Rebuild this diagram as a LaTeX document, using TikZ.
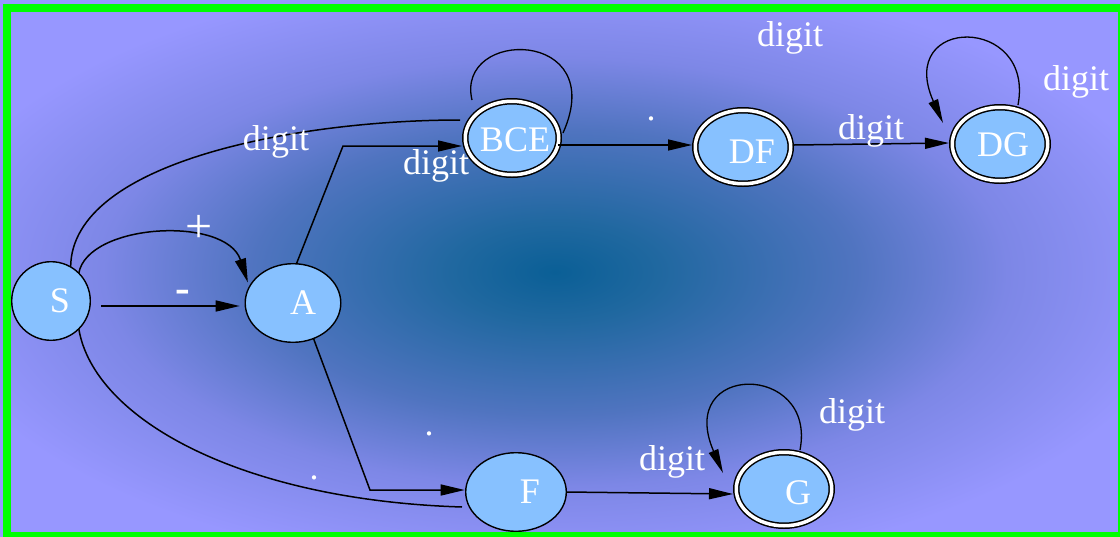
\documentclass[tikz,border=0pt]{standalone}
\usepackage{fontspec}
\setmainfont{Liberation Serif}
\usetikzlibrary{shapes.geometric,arrows.meta,calc}

\definecolor{nodeblue}{RGB}{135,193,255}
\definecolor{bgout}{RGB}{151,151,255}
\definecolor{bgmid}{RGB}{125,135,230}
\definecolor{bgin}{RGB}{80,116,192}
\definecolor{bgcore}{RGB}{32,104,160}
\definecolor{bgcenter}{RGB}{10,95,150}
\definecolor{framegreen}{RGB}{0,255,0}

% soft glow behind the automaton
\pgfdeclareradialshading{bgglow}{\pgfpoint{0bp}{0bp}}{%
  color(0bp)=(bgcenter); color(4.5bp)=(bgcore); color(13bp)=(bgin);
  color(19.5bp)=(bgmid); color(27.5bp)=(bgout); color(50bp)=(bgout)}

\tikzset{
  fsmstate/.style={ellipse, draw=black, line width=1.4pt, fill=nodeblue,
    inner sep=0pt, outer sep=0pt},
  fsmaccept/.style={fsmstate, line width=1.5pt, double=white, double distance=3.5pt},
  statetxt/.style={text=white, inner sep=0pt, font=\fontsize{36}{40}\selectfont},
  lbl/.style={text=white, inner sep=0pt, font=\fontsize{36}{40}\selectfont},
  trans/.style={draw=black, line width=1.5pt, -{Triangle[length=24pt,width=11pt]}},
  plainline/.style={draw=black, line width=1.5pt},
  loopline/.style={draw=black, line width=1.3pt},
}

\begin{document}
\begin{tikzpicture}[x=1pt,y=-1pt]
\useasboundingbox (0,0) rectangle (1120,536);
\clip (0,0) rectangle (1120,536);
\fill[white] (0,0) rectangle (1120,536);
\shade[shading=bgglow] (-25,-3) rectangle (1135,547);

% states
\node[fsmstate, minimum width=78.6pt, minimum height=78.6pt] (S) at (51,301) {};
\node[fsmstate, minimum width=95.6pt, minimum height=78.6pt] (A) at (293,303) {};
\node[fsmstate, minimum width=100.6pt, minimum height=78.6pt] (F) at (516,492) {};
\node[fsmaccept, minimum width=93.5pt, minimum height=73.5pt] (BCE) at (512,138) {};
\node[fsmaccept, minimum width=95.5pt, minimum height=73.5pt] (DF) at (743,147) {};
\node[fsmaccept, minimum width=95.5pt, minimum height=73.5pt] (DG) at (1000,144) {};
\node[fsmaccept, minimum width=95.5pt, minimum height=73.5pt] (G) at (784,489) {};

\node[statetxt] (Stxt) at ($(S.center)+(9,0)$) {S};
\node[statetxt] (Atxt) at ($(A.center)+(10,0)$) {A};
\node[statetxt] (Ftxt) at ($(F.center)+(14,0)$) {F};
\node[statetxt] (BCEtxt) at ($(BCE.center)+(3,2)$) {BCE};
\node[statetxt] (DFtxt) at ($(DF.center)+(9,5)$) {DF};
\node[statetxt] (DGtxt) at ($(DG.center)+(3,1)$) {DG};
\node[statetxt] (Gtxt) at ($(G.center)+(14,4)$) {G};

% transitions
\draw[trans] ($(S.east)+(11,5)$) -- ($(A.west)+(-5.5,3)$);
\draw[trans] (S.45) .. controls +(9,-50) and +(-22,-67) .. ($(A.150)+(-6,2)$);
\draw[plainline] (S.60) .. controls +(1,-106) and +(-160,0) .. ($(BCE.center)+(-52,-18)$);
\draw[trans] (A.85) -- (343,146) -- ($(BCE.center)+(-50,8)$);
\draw[trans] (A.-60) -- (370,490) -- ($(F.west)+(-1,-2)$);
\draw[plainline] (S.-45) .. controls +(15,90) and +(-222,-7) .. ($(F.center)+(-54,15)$);
\draw[trans] ($(BCE.center)+(46,7)$) -- ($(DF.center)+(-51,-2)$);
\draw[trans] ($(DF.center)+(51,-2)$) -- ($(DG.center)+(-51,-1)$);
\draw[trans] (F.east) -- ($(G.center)+(-51,5)$);

% self loops
\draw[loopline] ($(BCE.center)+(-40,-38)$) .. controls +(-17,-72) and +(47,-105) .. ($(BCE.center)+(51,-5)$);
\draw[loopline, -{Triangle[length=24pt,width=10pt]}] ($(DG.center)+(18,-39)$) .. controls +(17,-90) and +(-48,-108) .. ($(DG.center)+(-57,-21)$);
\draw[loopline, -{Triangle[length=24pt,width=10pt]}] ($(G.center)+(16,-39)$) .. controls +(17,-88) and +(-48,-111) .. ($(G.center)+(-61,-16)$);

% labels
\node[lbl, anchor=base] (l1) at (276,150) {digit};
\node[lbl, anchor=base] (l2) at (436,174) {digit};
\node[lbl, anchor=base] (l3) at (790,46) {digit};
\node[lbl, anchor=base] (l4) at (871,139) {digit};
\node[lbl, anchor=base] (l5) at (1076,90) {digit};
\node[lbl, anchor=base] (l6) at (672,470) {digit};
\node[lbl, anchor=base] (l7) at (852,423) {digit};
\node[lbl, font=\fontsize{48}{52}\selectfont] (plus) at (199,229) {+};
\node[lbl, font=\fontsize{44}{48}\selectfont\bfseries] (minus) at (183,296) {-};
\node[lbl, anchor=base] (d1) at (651,120) {.};
\node[lbl, anchor=base] (d2) at (429,435) {.};
\node[lbl, anchor=base] (d3) at (314,479) {.};

% frame
\draw[framegreen, line width=8pt] (7,7.5) rectangle (1122,536);
\end{tikzpicture}
\end{document}
